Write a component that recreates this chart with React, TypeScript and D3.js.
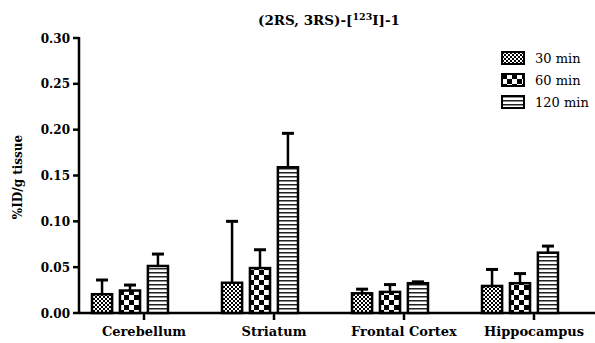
import React from 'react'
import * as d3 from 'd3'

const regions = ['Cerebellum', 'Striatum', 'Frontal Cortex', 'Hippocampus']
const timepoints = ['30 min', '60 min', '120 min']
const means30 = [0.0205, 0.033, 0.0215, 0.0295]
const sem30 = [0.0155, 0.067, 0.0045, 0.018]
const means60 = [0.0245, 0.049, 0.023, 0.0325]
const sem60 = [0.006, 0.02, 0.008, 0.0105]
const means120 = [0.0513, 0.159, 0.0325, 0.0658]
const sem120 = [0.013, 0.037, 0.0015, 0.0072]
const yTicks = [0, 0.05, 0.1, 0.15, 0.2, 0.25, 0.3]

const W = 595
const H = 343
const left = 79
const top = 38
const bottom = 313

const patterns = ['p30', 'p60', 'p120']

const App = () => {
  const x = d3.scaleBand().domain(regions).range([left, left + 520])
  const inner = d3.scaleBand().domain(timepoints).range([13, 89]).paddingInner(0.28)
  const y = d3.scaleLinear().domain([0, 0.3]).range([bottom, top])

  const series = [
    { means: means30, sem: sem30 },
    { means: means60, sem: sem60 },
    { means: means120, sem: sem120 },
  ]

  const serif = 'DejaVu Serif, serif'
  const bold = { fontFamily: serif, fontWeight: 'bold' }

  return (
    <svg width={W} height={H} style={{ position: 'absolute', left: 0, top: 0 }}>
      <defs>
        <pattern id="p30" width={4} height={4} patternUnits="userSpaceOnUse">
          <rect width={4} height={4} fill="#fff" />
          <rect width={2} height={2} fill="#000" />
          <rect x={2} y={2} width={2} height={2} fill="#000" />
        </pattern>
        <pattern id="p60" width={10} height={10} patternUnits="userSpaceOnUse">
          <rect width={10} height={10} fill="#fff" />
          <rect width={5} height={5} fill="#000" />
          <rect x={5} y={5} width={5} height={5} fill="#000" />
        </pattern>
        <pattern id="p120" width={4} height={4} patternUnits="userSpaceOnUse">
          <rect width={4} height={4} fill="#fff" />
          <rect width={4} height={1.5} fill="#222" />
        </pattern>
      </defs>

      <text x={329} y={25} textAnchor="middle" fontSize={13.5} style={bold}>
        (2RS, 3RS)-[<tspan dy={-5} fontSize={9.5}>123</tspan>
        <tspan dy={5}>I]-1</tspan>
      </text>

      {/* y axis */}
      <line x1={left} x2={left} y1={top - 1} y2={bottom + 1} stroke="#000" strokeWidth={2.5} />
      {yTicks.map(t => (
        <g key={t}>
          <line x1={left - 6} x2={left} y1={y(t)} y2={y(t)} stroke="#000" strokeWidth={2.5} />
          <text x={left - 9} y={y(t) + 4.5} textAnchor="end" fontSize={12} style={bold}>
            {t.toFixed(2)}
          </text>
        </g>
      ))}
      <text
        transform={`translate(22, ${177}) rotate(-90)`}
        textAnchor="middle"
        fontSize={12}
        style={bold}
      >
        %ID/g tissue
      </text>

      {/* x axis */}
      <line x1={left} x2={W} y1={bottom} y2={bottom} stroke="#000" strokeWidth={2.5} />
      {regions.map(r => {
        const cx = (x(r) as number) + x.bandwidth() / 2
        return (
          <g key={r}>
            <line x1={cx} x2={cx} y1={bottom} y2={bottom + 7} stroke="#000" strokeWidth={2.5} />
            <text x={cx} y={bottom + 23} textAnchor="middle" fontSize={13} style={bold}>
              {r}
            </text>
          </g>
        )
      })}

      {/* bars */}
      {regions.map((r, i) => (
        <g key={r} transform={`translate(${x(r)},0)`}>
          {series.map((s, j) => {
            const bx = inner(timepoints[j]) as number
            const bw = inner.bandwidth()
            const cx = bx + bw / 2
            const yv = y(s.means[i])
            const ye = y(s.means[i] + s.sem[i])
            return (
              <g key={j}>
                <line x1={cx} x2={cx} y1={yv} y2={ye} stroke="#000" strokeWidth={2.5} />
                <line x1={cx - 6} x2={cx + 6} y1={ye} y2={ye} stroke="#000" strokeWidth={3} />
                <rect
                  x={bx}
                  y={yv}
                  width={bw}
                  height={bottom - yv}
                  fill={`url(#${patterns[j]})`}
                  stroke="#000"
                  strokeWidth={2.5}
                />
              </g>
            )
          })}
        </g>
      ))}

      {/* legend */}
      {timepoints.map((t, j) => (
        <g key={t} transform={`translate(502, ${52 + j * 22})`}>
          <rect width={22} height={12} fill={`url(#${patterns[j]})`} stroke="#000" strokeWidth={2} />
          <text x={33} y={11} fontSize={13} fontFamily={serif}>
            {t}
          </text>
        </g>
      ))}
    </svg>
  )
}

export default App
